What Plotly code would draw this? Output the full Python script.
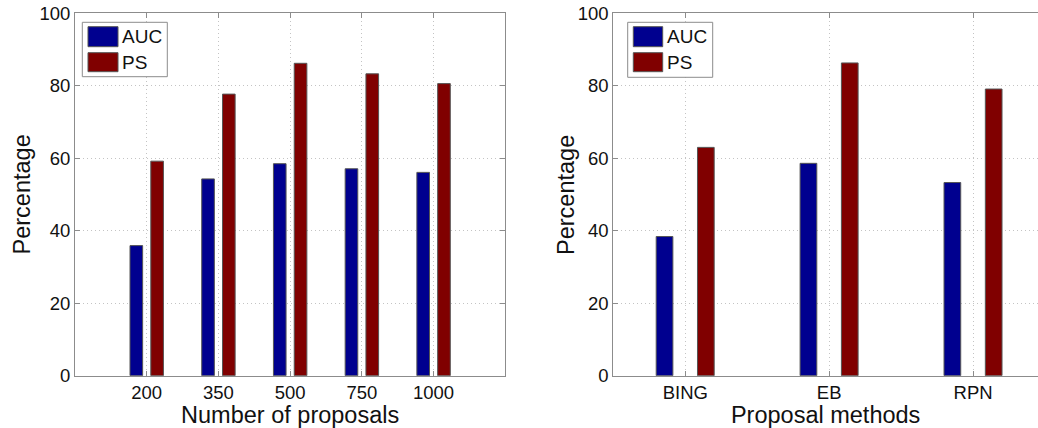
import plotly.graph_objects as go

# Left panel: number of proposals
proposal_counts = ["200", "350", "500", "750", "1000"]
auc_by_count = [35.9, 54.3, 58.5, 57.1, 56.1]
ps_by_count = [59.2, 77.7, 86.2, 83.3, 80.6]

# Right panel: proposal methods
methods = ["BING", "EB", "RPN"]
auc_by_method = [38.4, 58.6, 53.3]
ps_by_method = [63.0, 86.3, 79.1]

series_names = ["AUC", "PS"]
y_ticks = [0, 20, 40, 60, 80, 100]
y_title = "Percentage"

BLUE = "#00008f"
RED = "#800000"
EDGE = "#555555"
AXIS = "#8c8c8c"
GRID = "#c4c4c4"
FONT = "Liberation Sans, Arial, Helvetica, sans-serif"

W, H = 1038, 428

fig = go.Figure()

# grouped bars, left panel
fig.add_trace(go.Bar(x=proposal_counts, y=auc_by_count, name=series_names[0],
                     width=0.176, offset=-0.233, marker=dict(color=BLUE, line=dict(color=EDGE, width=1)),
                     xaxis="x", yaxis="y", showlegend=False))
fig.add_trace(go.Bar(x=proposal_counts, y=ps_by_count, name=series_names[1],
                     width=0.176, offset=0.057, marker=dict(color=RED, line=dict(color=EDGE, width=1)),
                     xaxis="x", yaxis="y", showlegend=False))

# grouped bars, right panel
fig.add_trace(go.Bar(x=methods, y=auc_by_method, name=series_names[0],
                     width=0.116, offset=-0.202, marker=dict(color=BLUE, line=dict(color=EDGE, width=1)),
                     xaxis="x2", yaxis="y2", showlegend=False))
fig.add_trace(go.Bar(x=methods, y=ps_by_method, name=series_names[1],
                     width=0.116, offset=0.085, marker=dict(color=RED, line=dict(color=EDGE, width=1)),
                     xaxis="x2", yaxis="y2", showlegend=False))

tick_font = dict(family=FONT, size=18.5, color="#111")
title_font = dict(family=FONT, size=23.5, color="#111")

common_x = dict(type="category", showgrid=True, gridcolor=GRID, griddash="1px,3px", gridwidth=1,
                showline=True, linecolor=AXIS, linewidth=1, ticks="inside", ticklen=5,
                tickcolor=AXIS, tickfont=tick_font, title_font=title_font, zeroline=False,
                fixedrange=True, automargin=False)
common_y = dict(range=[0, 100], tickvals=y_ticks, showgrid=True, gridcolor=GRID, griddash="1px,3px",
                gridwidth=1, showline=True, linecolor=AXIS, linewidth=1, ticks="inside", ticklen=5,
                tickcolor=AXIS, tickfont=tick_font, zeroline=False,
                fixedrange=True, automargin=False)

y_dom = [52.3 / H, 414.7 / H]

fig.update_layout(
    width=W, height=H,
    margin=dict(l=0, r=0, t=0, b=0, autoexpand=False),
    paper_bgcolor="white", plot_bgcolor="white",
    font=dict(family=FONT, color="#111"),
    barmode="group",
    xaxis=dict(common_x, domain=[75 / W, 505.3 / W], range=[-1, 5], mirror="ticks",
               title_text="Number of proposals", title_standoff=4),
    yaxis=dict(common_y, domain=y_dom, anchor="x", mirror="ticks"),
    xaxis2=dict(common_x, domain=[613.3 / W, 1.0], range=[-0.5, 2.451], mirror="ticks",
                anchor="y2", title_text="Proposal methods", title_standoff=4),
    yaxis2=dict(common_y, domain=y_dom, anchor="x2", mirror=False),
)

# vertical y-axis titles, one per panel
for x_px in (21.5, 566):
    fig.add_annotation(xref="paper", yref="paper", x=x_px / W, y=1 - 195 / H,
                       text=y_title, textangle=-90, showarrow=False,
                       xanchor="center", yanchor="middle", font=title_font)

# legend boxes drawn per panel
def add_legend(box, swatch_x, text_x):
    x0, x1, y0, y1 = box
    fig.add_shape(type="rect", xref="paper", yref="paper",
                  x0=x0 / W, x1=x1 / W, y0=1 - y1 / H, y1=1 - y0 / H,
                  line=dict(color=AXIS, width=1), fillcolor="white", layer="above")
    rows = [(26.7, 46.7, BLUE, series_names[0]), (52.7, 71.7, RED, series_names[1])]
    for top, bot, col, label in rows:
        fig.add_shape(type="rect", xref="paper", yref="paper",
                      x0=swatch_x[0] / W, x1=swatch_x[1] / W, y0=1 - bot / H, y1=1 - top / H,
                      line=dict(color=EDGE, width=1), fillcolor=col, layer="above")
        fig.add_annotation(xref="paper", yref="paper", x=text_x / W, y=1 - (top + bot) / 2 / H,
                           text=label, showarrow=False, xanchor="left", yanchor="middle",
                           font=dict(family=FONT, size=19, color="#111"))

add_legend((82.3, 167.3, 22.3, 76.7), (88, 118), 119.5)
add_legend((627.7, 712.7, 22.3, 77.3), (633.3, 662.7), 664.5)

fig.write_html("out.html")
